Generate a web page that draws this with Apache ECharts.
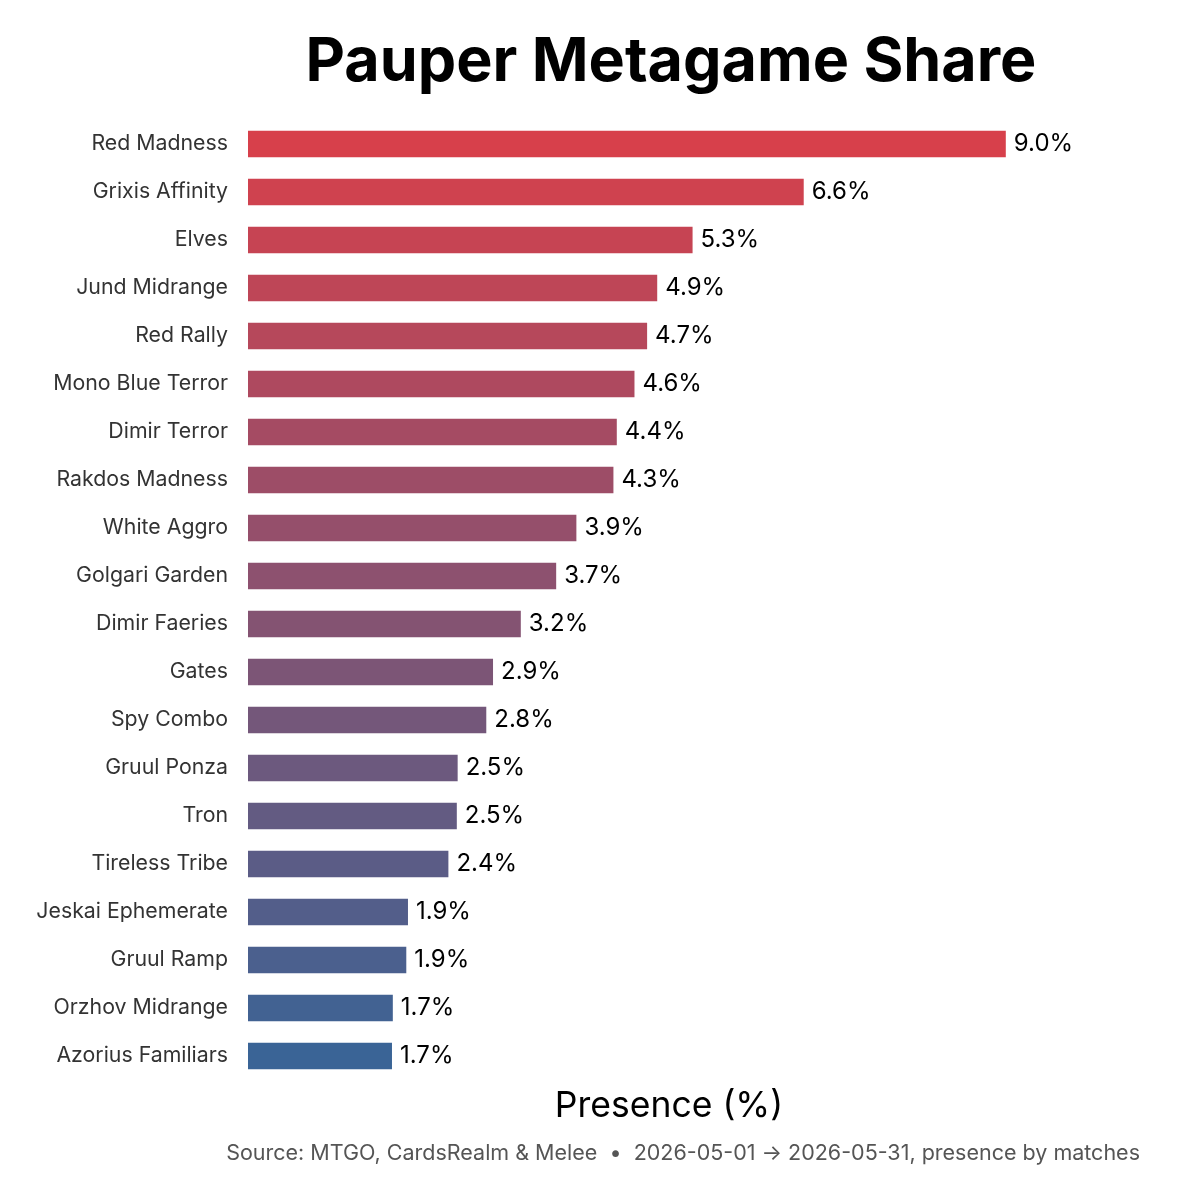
<!DOCTYPE html>
<html style="height: 100%">
<head>
<meta charset="utf-8">
</head>
<body style="height: 100%; margin: 0; background: #fff">
<div id="container" style="width:1200px;height:1200px"></div>
<script src="https://cdn.jsdelivr.net/npm/echarts@6/dist/echarts.min.js"></script>
<script type="text/javascript">
// decks, top to bottom
var decks = ['Red Madness', 'Grixis Affinity', 'Elves', 'Jund Midrange', 'Red Rally',
  'Mono Blue Terror', 'Dimir Terror', 'Rakdos Madness', 'White Aggro', 'Golgari Garden',
  'Dimir Faeries', 'Gates', 'Spy Combo', 'Gruul Ponza', 'Tron',
  'Tireless Tribe', 'Jeskai Ephemerate', 'Gruul Ramp', 'Orzhov Midrange', 'Azorius Familiars'];
// presence in %
var presence = [9.0, 6.6, 5.28, 4.86, 4.74, 4.59, 4.38, 4.34, 3.90, 3.66,
  3.24, 2.91, 2.83, 2.49, 2.48, 2.38, 1.90, 1.88, 1.72, 1.71];

var colTop = [215, 64, 75], colBottom = [58, 100, 150];
function barColor(i) {
  var t = i / (decks.length - 1);
  var c = colTop.map(function (v, k) { return Math.round(v + (colBottom[k] - v) * t); });
  return 'rgb(' + c.join(',') + ')';
}

var font = 'Inter, "Noto Sans", sans-serif';
var myChart = echarts.init(document.getElementById('container'));

var option = {
  backgroundColor: '#fff',
  animation: false,
  title: {
    text: 'Pauper Metagame Share',
    left: 666, top: 27, textAlign: 'center',
    textStyle: { fontFamily: font, fontSize: 61, fontWeight: 'bold', color: '#000' }
  },
  graphic: [{
    type: 'text', right: 60, top: 1143,
    style: {
      text: 'Source: MTGO, CardsRealm & Melee  \u2022  2026-05-01 \u2192 2026-05-31, presence by matches',
      fontFamily: font, fontSize: 21.5, fill: '#555'
    }
  }],
  grid: { left: 248, right: 110, top: 120, bottom: 120, containLabel: false },
  xAxis: {
    type: 'value', min: 0, max: 10,
    name: 'Presence (%)', nameLocation: 'middle', nameGap: 8,
    nameTextStyle: { fontFamily: font, fontSize: 35.5, color: '#000' },
    axisLine: { show: false }, axisTick: { show: false },
    axisLabel: { show: false }, splitLine: { show: false }
  },
  yAxis: {
    type: 'category', data: decks, inverse: true,
    axisLine: { show: false }, axisTick: { show: false },
    axisLabel: { fontFamily: font, fontSize: 21.3, color: '#333', margin: 20 }
  },
  series: [{
    type: 'bar',
    data: presence.map(function (v, i) {
      return { value: v, itemStyle: { color: barColor(i) } };
    }),
    barCategoryGap: '45%',
    label: {
      show: true, position: 'right', distance: 8,
      fontFamily: font, fontSize: 24, color: '#000',
      formatter: function (p) { return p.value.toFixed(1) + '%'; }
    }
  }]
};

myChart.setOption(option);
</script>
</body>
</html>
